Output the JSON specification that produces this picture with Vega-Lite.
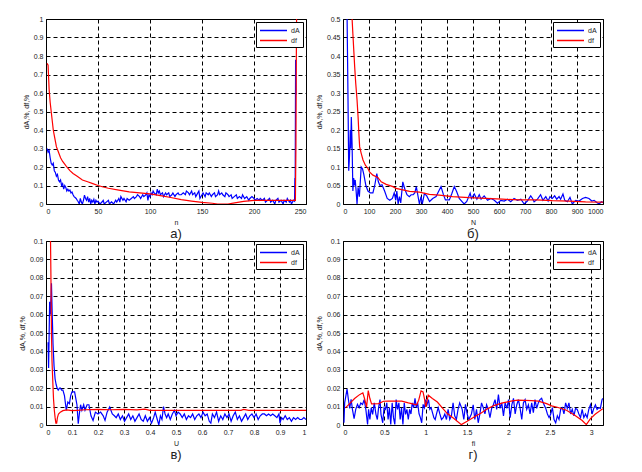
{
  "$schema": "https://vega.github.io/schema/vega-lite/v6.json",
  "background": "white",
  "padding": {"left": 17, "top": 14, "right": 5, "bottom": 5},
  "bounds": "flush",
  "columns": 2,
  "spacing": {"row": 37, "column": 37},
  "resolve": {"scale": {"color": "independent"}, "legend": {"color": "independent"}},
  "datasets": {
    "a": [
      {"x":1,"y":0.30,"s":"dA"},{"x":2,"y":0.28,"s":"dA"},{"x":3,"y":0.29,"s":"dA"},{"x":4,"y":0.25,"s":"dA"},{"x":5,"y":0.22,"s":"dA"},{"x":6,"y":0.21,"s":"dA"},{"x":7,"y":0.22,"s":"dA"},{"x":8,"y":0.18,"s":"dA"},{"x":9,"y":0.17,"s":"dA"},{"x":10,"y":0.15,"s":"dA"},
      {"x":11,"y":0.16,"s":"dA"},{"x":12,"y":0.13,"s":"dA"},{"x":13,"y":0.12,"s":"dA"},{"x":14,"y":0.13,"s":"dA"},{"x":15,"y":0.10,"s":"dA"},{"x":16,"y":0.11,"s":"dA"},{"x":17,"y":0.08,"s":"dA"},{"x":18,"y":0.10,"s":"dA"},{"x":19,"y":0.09,"s":"dA"},{"x":20,"y":0.07,"s":"dA"},
      {"x":21,"y":0.08,"s":"dA"},{"x":22,"y":0.07,"s":"dA"},{"x":23,"y":0.075,"s":"dA"},{"x":24,"y":0.06,"s":"dA"},{"x":25,"y":0.065,"s":"dA"},{"x":26,"y":0.05,"s":"dA"},{"x":27,"y":0.04,"s":"dA"},{"x":28,"y":0.035,"s":"dA"},{"x":29,"y":0.03,"s":"dA"},{"x":30,"y":0.02,"s":"dA"},
      {"x":31,"y":0.012,"s":"dA"},{"x":32,"y":0.0,"s":"dA"},{"x":33,"y":0.03,"s":"dA"},{"x":34,"y":0.01,"s":"dA"},{"x":35,"y":0.0,"s":"dA"},{"x":36,"y":0.02,"s":"dA"},{"x":37,"y":0.048,"s":"dA"},{"x":38,"y":0.03,"s":"dA"},{"x":39,"y":0.02,"s":"dA"},{"x":40,"y":0.04,"s":"dA"},
      {"x":41,"y":0.01,"s":"dA"},{"x":42,"y":0.03,"s":"dA"},{"x":43,"y":0.0,"s":"dA"},{"x":44,"y":0.02,"s":"dA"},{"x":45,"y":0.01,"s":"dA"},{"x":46,"y":0.025,"s":"dA"},{"x":47,"y":0.0,"s":"dA"},{"x":48,"y":0.02,"s":"dA"},{"x":49,"y":0.01,"s":"dA"},{"x":50,"y":0.015,"s":"dA"},
      {"x":52,"y":0.0,"s":"dA"},{"x":54,"y":0.012,"s":"dA"},{"x":55,"y":0.02,"s":"dA"},{"x":56,"y":0.0,"s":"dA"},{"x":58,"y":0.01,"s":"dA"},{"x":60,"y":0.02,"s":"dA"},{"x":61,"y":0.0,"s":"dA"},{"x":63,"y":0.012,"s":"dA"},{"x":65,"y":0.0,"s":"dA"},{"x":67,"y":0.02,"s":"dA"},
      {"x":68,"y":0.01,"s":"dA"},{"x":70,"y":0.03,"s":"dA"},{"x":71,"y":0.01,"s":"dA"},{"x":72,"y":0.04,"s":"dA"},{"x":74,"y":0.02,"s":"dA"},{"x":75,"y":0.03,"s":"dA"},{"x":77,"y":0.012,"s":"dA"},{"x":78,"y":0.03,"s":"dA"},{"x":80,"y":0.02,"s":"dA"},{"x":82,"y":0.03,"s":"dA"},
      {"x":84,"y":0.04,"s":"dA"},{"x":85,"y":0.03,"s":"dA"},{"x":87,"y":0.04,"s":"dA"},{"x":88,"y":0.05,"s":"dA"},{"x":90,"y":0.04,"s":"dA"},{"x":91,"y":0.03,"s":"dA"},{"x":93,"y":0.05,"s":"dA"},{"x":94,"y":0.04,"s":"dA"},{"x":96,"y":0.05,"s":"dA"},{"x":97,"y":0.06,"s":"dA"},
      {"x":98,"y":0.02,"s":"dA"},{"x":99,"y":0.05,"s":"dA"},{"x":100,"y":0.04,"s":"dA"},{"x":101,"y":0.06,"s":"dA"},{"x":102,"y":0.05,"s":"dA"},{"x":103,"y":0.07,"s":"dA"},{"x":104,"y":0.06,"s":"dA"},{"x":106,"y":0.05,"s":"dA"},{"x":107,"y":0.08,"s":"dA"},{"x":108,"y":0.06,"s":"dA"},
      {"x":109,"y":0.07,"s":"dA"},{"x":110,"y":0.05,"s":"dA"},{"x":112,"y":0.06,"s":"dA"},{"x":113,"y":0.04,"s":"dA"},{"x":115,"y":0.06,"s":"dA"},{"x":116,"y":0.05,"s":"dA"},{"x":118,"y":0.06,"s":"dA"},{"x":119,"y":0.04,"s":"dA"},{"x":121,"y":0.05,"s":"dA"},{"x":122,"y":0.06,"s":"dA"},
      {"x":124,"y":0.04,"s":"dA"},{"x":125,"y":0.05,"s":"dA"},{"x":127,"y":0.06,"s":"dA"},{"x":128,"y":0.05,"s":"dA"},{"x":130,"y":0.05,"s":"dA"},{"x":132,"y":0.06,"s":"dA"},{"x":134,"y":0.05,"s":"dA"},{"x":135,"y":0.07,"s":"dA"},{"x":137,"y":0.06,"s":"dA"},{"x":138,"y":0.05,"s":"dA"},
      {"x":140,"y":0.07,"s":"dA"},{"x":141,"y":0.05,"s":"dA"},{"x":143,"y":0.06,"s":"dA"},{"x":144,"y":0.04,"s":"dA"},{"x":146,"y":0.06,"s":"dA"},{"x":147,"y":0.07,"s":"dA"},{"x":148,"y":0.03,"s":"dA"},{"x":150,"y":0.05,"s":"dA"},{"x":151,"y":0.06,"s":"dA"},{"x":153,"y":0.04,"s":"dA"},
      {"x":154,"y":0.06,"s":"dA"},{"x":156,"y":0.05,"s":"dA"},{"x":157,"y":0.06,"s":"dA"},{"x":159,"y":0.04,"s":"dA"},{"x":160,"y":0.05,"s":"dA"},{"x":162,"y":0.06,"s":"dA"},{"x":163,"y":0.04,"s":"dA"},{"x":165,"y":0.05,"s":"dA"},{"x":166,"y":0.07,"s":"dA"},{"x":167,"y":0.05,"s":"dA"},
      {"x":169,"y":0.06,"s":"dA"},{"x":170,"y":0.05,"s":"dA"},{"x":172,"y":0.04,"s":"dA"},{"x":173,"y":0.06,"s":"dA"},{"x":175,"y":0.05,"s":"dA"},{"x":176,"y":0.04,"s":"dA"},{"x":178,"y":0.05,"s":"dA"},{"x":179,"y":0.03,"s":"dA"},{"x":181,"y":0.04,"s":"dA"},{"x":183,"y":0.05,"s":"dA"},
      {"x":184,"y":0.03,"s":"dA"},{"x":186,"y":0.04,"s":"dA"},{"x":188,"y":0.03,"s":"dA"},{"x":189,"y":0.05,"s":"dA"},{"x":191,"y":0.03,"s":"dA"},{"x":193,"y":0.04,"s":"dA"},{"x":195,"y":0.02,"s":"dA"},{"x":196,"y":0.03,"s":"dA"},{"x":198,"y":0.04,"s":"dA"},{"x":200,"y":0.03,"s":"dA"},
      {"x":201,"y":0.02,"s":"dA"},{"x":203,"y":0.03,"s":"dA"},{"x":205,"y":0.02,"s":"dA"},{"x":206,"y":0.03,"s":"dA"},{"x":208,"y":0.02,"s":"dA"},{"x":210,"y":0.03,"s":"dA"},{"x":211,"y":0.01,"s":"dA"},{"x":213,"y":0.02,"s":"dA"},{"x":215,"y":0.03,"s":"dA"},{"x":216,"y":0.01,"s":"dA"},
      {"x":218,"y":0.02,"s":"dA"},{"x":220,"y":0.0,"s":"dA"},{"x":221,"y":0.02,"s":"dA"},{"x":223,"y":0.03,"s":"dA"},{"x":224,"y":0.01,"s":"dA"},{"x":226,"y":0.02,"s":"dA"},{"x":228,"y":0.0,"s":"dA"},{"x":229,"y":0.02,"s":"dA"},{"x":231,"y":0.01,"s":"dA"},{"x":232,"y":0.03,"s":"dA"},
      {"x":234,"y":0.01,"s":"dA"},{"x":235,"y":0.02,"s":"dA"},{"x":236,"y":0.0,"s":"dA"},{"x":238,"y":0.02,"s":"dA"},{"x":239,"y":0.015,"s":"dA"},{"x":239.3,"y":0.14,"s":"dA"},{"x":239.6,"y":0.09,"s":"dA"},{"x":240,"y":0.78,"s":"dA"},{"x":240.4,"y":0.59,"s":"dA"},
      {"x":1,"y":0.76,"s":"df"},{"x":2,"y":0.75,"s":"df"},{"x":3,"y":0.62,"s":"df"},{"x":4,"y":0.55,"s":"df"},{"x":5,"y":0.5,"s":"df"},{"x":6,"y":0.45,"s":"df"},{"x":7,"y":0.4,"s":"df"},{"x":8,"y":0.37,"s":"df"},{"x":10,"y":0.31,"s":"df"},{"x":12,"y":0.28,"s":"df"},
      {"x":14,"y":0.25,"s":"df"},{"x":16,"y":0.23,"s":"df"},{"x":18,"y":0.215,"s":"df"},{"x":20,"y":0.2,"s":"df"},{"x":23,"y":0.18,"s":"df"},{"x":26,"y":0.165,"s":"df"},{"x":30,"y":0.15,"s":"df"},{"x":35,"y":0.13,"s":"df"},{"x":40,"y":0.12,"s":"df"},{"x":45,"y":0.11,"s":"df"},
      {"x":50,"y":0.1,"s":"df"},{"x":55,"y":0.092,"s":"df"},{"x":60,"y":0.085,"s":"df"},{"x":70,"y":0.075,"s":"df"},{"x":80,"y":0.066,"s":"df"},{"x":90,"y":0.06,"s":"df"},{"x":100,"y":0.055,"s":"df"},{"x":110,"y":0.045,"s":"df"},{"x":120,"y":0.035,"s":"df"},{"x":130,"y":0.024,"s":"df"},
      {"x":140,"y":0.016,"s":"df"},{"x":150,"y":0.009,"s":"df"},{"x":160,"y":0.004,"s":"df"},{"x":165,"y":0.0,"s":"df"},{"x":175,"y":0.0,"s":"df"},{"x":180,"y":0.005,"s":"df"},{"x":190,"y":0.014,"s":"df"},{"x":200,"y":0.02,"s":"df"},{"x":210,"y":0.02,"s":"df"},{"x":220,"y":0.02,"s":"df"},
      {"x":230,"y":0.02,"s":"df"},{"x":239.8,"y":0.02,"s":"df"},{"x":240.3,"y":0.3,"s":"df"},{"x":240.6,"y":0.7,"s":"df"},{"x":241,"y":1.05,"s":"df"}
    ],
    "b": [
      {"x":15,"y":0.55,"s":"dA"},{"x":19,"y":0.3,"s":"dA"},{"x":22,"y":0.09,"s":"dA"},{"x":25,"y":0.13,"s":"dA"},{"x":28,"y":0.2,"s":"dA"},{"x":30,"y":0.15,"s":"dA"},{"x":32,"y":0.235,"s":"dA"},{"x":35,"y":0.16,"s":"dA"},{"x":38,"y":0.035,"s":"dA"},{"x":41,"y":0.07,"s":"dA"},
      {"x":44,"y":0.05,"s":"dA"},{"x":47,"y":0.065,"s":"dA"},{"x":50,"y":0.04,"s":"dA"},{"x":54,"y":0.0,"s":"dA"},{"x":58,"y":0.045,"s":"dA"},{"x":63,"y":0.02,"s":"dA"},{"x":70,"y":0.1,"s":"dA"},{"x":75,"y":0.095,"s":"dA"},{"x":80,"y":0.08,"s":"dA"},{"x":88,"y":0.05,"s":"dA"},
      {"x":96,"y":0.035,"s":"dA"},{"x":105,"y":0.03,"s":"dA"},{"x":115,"y":0.03,"s":"dA"},{"x":122,"y":0.05,"s":"dA"},{"x":130,"y":0.082,"s":"dA"},{"x":136,"y":0.06,"s":"dA"},{"x":142,"y":0.05,"s":"dA"},{"x":150,"y":0.052,"s":"dA"},{"x":160,"y":0.035,"s":"dA"},{"x":170,"y":0.015,"s":"dA"},
      {"x":180,"y":0.01,"s":"dA"},{"x":190,"y":0.015,"s":"dA"},{"x":197,"y":0.03,"s":"dA"},{"x":203,"y":0.01,"s":"dA"},{"x":207,"y":0.035,"s":"dA"},{"x":212,"y":0.0,"s":"dA"},{"x":217,"y":0.02,"s":"dA"},{"x":222,"y":0.003,"s":"dA"},{"x":230,"y":0.06,"s":"dA"},{"x":238,"y":0.04,"s":"dA"},
      {"x":246,"y":0.025,"s":"dA"},{"x":255,"y":0.02,"s":"dA"},{"x":262,"y":0.025,"s":"dA"},{"x":270,"y":0.025,"s":"dA"},{"x":276,"y":0.03,"s":"dA"},{"x":282,"y":0.047,"s":"dA"},{"x":290,"y":0.015,"s":"dA"},{"x":294,"y":0.0,"s":"dA"},{"x":300,"y":0.02,"s":"dA"},{"x":305,"y":0.0,"s":"dA"},
      {"x":313,"y":0.028,"s":"dA"},{"x":322,"y":0.022,"s":"dA"},{"x":333,"y":0.007,"s":"dA"},{"x":345,"y":0.015,"s":"dA"},{"x":358,"y":0.02,"s":"dA"},{"x":367,"y":0.033,"s":"dA"},{"x":377,"y":0.047,"s":"dA"},{"x":386,"y":0.026,"s":"dA"},{"x":394,"y":0.011,"s":"dA"},{"x":409,"y":0.011,"s":"dA"},
      {"x":418,"y":0.027,"s":"dA"},{"x":428,"y":0.047,"s":"dA"},{"x":437,"y":0.034,"s":"dA"},{"x":447,"y":0.015,"s":"dA"},{"x":457,"y":0.007,"s":"dA"},{"x":466,"y":0.0,"s":"dA"},{"x":476,"y":0.007,"s":"dA"},{"x":489,"y":0.029,"s":"dA"},{"x":494,"y":0.015,"s":"dA"},{"x":505,"y":0.027,"s":"dA"},
      {"x":515,"y":0.013,"s":"dA"},{"x":524,"y":0.025,"s":"dA"},{"x":531,"y":0.013,"s":"dA"},{"x":543,"y":0.022,"s":"dA"},{"x":556,"y":0.01,"s":"dA"},{"x":569,"y":0.015,"s":"dA"},{"x":582,"y":0.01,"s":"dA"},{"x":594,"y":0.002,"s":"dA"},{"x":607,"y":0.01,"s":"dA"},{"x":620,"y":0.008,"s":"dA"},
      {"x":633,"y":0.013,"s":"dA"},{"x":645,"y":0.006,"s":"dA"},{"x":658,"y":0.015,"s":"dA"},{"x":671,"y":0.01,"s":"dA"},{"x":684,"y":0.013,"s":"dA"},{"x":697,"y":0.0,"s":"dA"},{"x":709,"y":0.008,"s":"dA"},{"x":722,"y":0.022,"s":"dA"},{"x":729,"y":0.015,"s":"dA"},{"x":735,"y":0.006,"s":"dA"},
      {"x":748,"y":0.013,"s":"dA"},{"x":760,"y":0.025,"s":"dA"},{"x":769,"y":0.01,"s":"dA"},{"x":780,"y":0.02,"s":"dA"},{"x":789,"y":0.008,"s":"dA"},{"x":796,"y":0.02,"s":"dA"},{"x":805,"y":0.015,"s":"dA"},{"x":814,"y":0.022,"s":"dA"},{"x":822,"y":0.013,"s":"dA"},{"x":831,"y":0.02,"s":"dA"},
      {"x":837,"y":0.013,"s":"dA"},{"x":846,"y":0.027,"s":"dA"},{"x":853,"y":0.01,"s":"dA"},{"x":863,"y":0.006,"s":"dA"},{"x":873,"y":0.018,"s":"dA"},{"x":882,"y":0.0,"s":"dA"},{"x":895,"y":0.01,"s":"dA"},{"x":908,"y":0.008,"s":"dA"},{"x":921,"y":0.015,"s":"dA"},{"x":933,"y":0.018,"s":"dA"},
      {"x":946,"y":0.015,"s":"dA"},{"x":957,"y":0.008,"s":"dA"},{"x":966,"y":0.01,"s":"dA"},{"x":976,"y":0.004,"s":"dA"},{"x":985,"y":0.0,"s":"dA"},{"x":994,"y":0.006,"s":"dA"},{"x":1000,"y":0.004,"s":"dA"},
      {"x":33,"y":0.56,"s":"df"},{"x":35,"y":0.5,"s":"df"},{"x":38,"y":0.46,"s":"df"},{"x":45,"y":0.37,"s":"df"},{"x":49,"y":0.326,"s":"df"},{"x":54,"y":0.281,"s":"df"},{"x":58,"y":0.236,"s":"df"},{"x":61,"y":0.191,"s":"df"},{"x":64,"y":0.155,"s":"df"},{"x":70,"y":0.137,"s":"df"},
      {"x":77,"y":0.119,"s":"df"},{"x":86,"y":0.105,"s":"df"},{"x":96,"y":0.096,"s":"df"},{"x":102,"y":0.087,"s":"df"},{"x":115,"y":0.078,"s":"df"},{"x":134,"y":0.072,"s":"df"},{"x":147,"y":0.06,"s":"df"},{"x":166,"y":0.053,"s":"df"},{"x":192,"y":0.047,"s":"df"},{"x":204,"y":0.042,"s":"df"},
      {"x":230,"y":0.038,"s":"df"},{"x":256,"y":0.034,"s":"df"},{"x":294,"y":0.032,"s":"df"},{"x":332,"y":0.026,"s":"df"},{"x":370,"y":0.024,"s":"df"},{"x":421,"y":0.02,"s":"df"},{"x":485,"y":0.017,"s":"df"},{"x":549,"y":0.015,"s":"df"},{"x":613,"y":0.013,"s":"df"},{"x":677,"y":0.011,"s":"df"},
      {"x":741,"y":0.011,"s":"df"},{"x":805,"y":0.009,"s":"df"},{"x":869,"y":0.008,"s":"df"},{"x":933,"y":0.006,"s":"df"},{"x":1000,"y":0.005,"s":"df"}
    ],
    "c": [
      {"x":0.008,"y":0.045,"s":"dA"},{"x":0.01,"y":0.031,"s":"dA"},{"x":0.014,"y":0.067,"s":"dA"},{"x":0.017,"y":0.06,"s":"dA"},{"x":0.021,"y":0.077,"s":"dA"},{"x":0.024,"y":0.06,"s":"dA"},{"x":0.027,"y":0.044,"s":"dA"},{"x":0.031,"y":0.032,"s":"dA"},{"x":0.035,"y":0.025,"s":"dA"},{"x":0.039,"y":0.022,"s":"dA"},
      {"x":0.043,"y":0.02,"s":"dA"},{"x":0.047,"y":0.019,"s":"dA"},{"x":0.052,"y":0.02,"s":"dA"},{"x":0.056,"y":0.02,"s":"dA"},{"x":0.06,"y":0.019,"s":"dA"},{"x":0.065,"y":0.019,"s":"dA"},{"x":0.071,"y":0.016,"s":"dA"},{"x":0.078,"y":0.008,"s":"dA"},{"x":0.084,"y":0.0125,"s":"dA"},{"x":0.09,"y":0.0116,"s":"dA"},
      {"x":0.095,"y":0.016,"s":"dA"},{"x":0.1,"y":0.018,"s":"dA"},{"x":0.11,"y":0.018,"s":"dA"},{"x":0.119,"y":0.011,"s":"dA"},{"x":0.124,"y":0.0007,"s":"dA"},{"x":0.129,"y":0.007,"s":"dA"},{"x":0.133,"y":0.011,"s":"dA"},{"x":0.138,"y":0.008,"s":"dA"},{"x":0.145,"y":0.011,"s":"dA"},{"x":0.15,"y":0.008,"s":"dA"},
      {"x":0.158,"y":0.011,"s":"dA"},{"x":0.165,"y":0.011,"s":"dA"},{"x":0.173,"y":0.005,"s":"dA"},{"x":0.181,"y":0.0025,"s":"dA"},{"x":0.19,"y":0.007,"s":"dA"},{"x":0.2,"y":0.006,"s":"dA"},{"x":0.21,"y":0.007,"s":"dA"},{"x":0.22,"y":0.005,"s":"dA"},{"x":0.227,"y":0.0025,"s":"dA"},{"x":0.235,"y":0.007,"s":"dA"},
      {"x":0.245,"y":0.0098,"s":"dA"},{"x":0.255,"y":0.006,"s":"dA"},{"x":0.263,"y":0.005,"s":"dA"},{"x":0.27,"y":0.004,"s":"dA"},{"x":0.278,"y":0.006,"s":"dA"},{"x":0.286,"y":0.003,"s":"dA"},{"x":0.294,"y":0.005,"s":"dA"},{"x":0.302,"y":0.002,"s":"dA"},{"x":0.31,"y":0.004,"s":"dA"},{"x":0.318,"y":0.006,"s":"dA"},
      {"x":0.326,"y":0.003,"s":"dA"},{"x":0.334,"y":0.005,"s":"dA"},{"x":0.342,"y":0.002,"s":"dA"},{"x":0.35,"y":0.004,"s":"dA"},{"x":0.358,"y":0.006,"s":"dA"},{"x":0.366,"y":0.003,"s":"dA"},{"x":0.374,"y":0.002,"s":"dA"},{"x":0.382,"y":0.005,"s":"dA"},{"x":0.39,"y":0.002,"s":"dA"},{"x":0.398,"y":0.004,"s":"dA"},
      {"x":0.406,"y":0.001,"s":"dA"},{"x":0.414,"y":0.004,"s":"dA"},{"x":0.42,"y":0.007,"s":"dA"},{"x":0.428,"y":0.003,"s":"dA"},{"x":0.434,"y":0.0,"s":"dA"},{"x":0.44,"y":0.005,"s":"dA"},{"x":0.446,"y":0.003,"s":"dA"},{"x":0.452,"y":0.01,"s":"dA"},{"x":0.458,"y":0.006,"s":"dA"},{"x":0.464,"y":0.004,"s":"dA"},
      {"x":0.47,"y":0.006,"s":"dA"},{"x":0.478,"y":0.003,"s":"dA"},{"x":0.486,"y":0.006,"s":"dA"},{"x":0.494,"y":0.008,"s":"dA"},{"x":0.5,"y":0.005,"s":"dA"},{"x":0.508,"y":0.007,"s":"dA"},{"x":0.516,"y":0.006,"s":"dA"},{"x":0.524,"y":0.004,"s":"dA"},{"x":0.532,"y":0.006,"s":"dA"},{"x":0.54,"y":0.003,"s":"dA"},
      {"x":0.548,"y":0.005,"s":"dA"},{"x":0.556,"y":0.004,"s":"dA"},{"x":0.564,"y":0.006,"s":"dA"},{"x":0.572,"y":0.003,"s":"dA"},{"x":0.58,"y":0.005,"s":"dA"},{"x":0.588,"y":0.006,"s":"dA"},{"x":0.596,"y":0.004,"s":"dA"},{"x":0.604,"y":0.007,"s":"dA"},{"x":0.612,"y":0.005,"s":"dA"},{"x":0.62,"y":0.006,"s":"dA"},
      {"x":0.628,"y":0.002,"s":"dA"},{"x":0.634,"y":0.001,"s":"dA"},{"x":0.64,"y":0.006,"s":"dA"},{"x":0.648,"y":0.004,"s":"dA"},{"x":0.656,"y":0.007,"s":"dA"},{"x":0.664,"y":0.002,"s":"dA"},{"x":0.672,"y":0.005,"s":"dA"},{"x":0.68,"y":0.003,"s":"dA"},{"x":0.688,"y":0.006,"s":"dA"},{"x":0.696,"y":0.004,"s":"dA"},
      {"x":0.704,"y":0.006,"s":"dA"},{"x":0.712,"y":0.002,"s":"dA"},{"x":0.72,"y":0.005,"s":"dA"},{"x":0.728,"y":0.007,"s":"dA"},{"x":0.736,"y":0.003,"s":"dA"},{"x":0.744,"y":0.005,"s":"dA"},{"x":0.752,"y":0.002,"s":"dA"},{"x":0.76,"y":0.004,"s":"dA"},{"x":0.768,"y":0.006,"s":"dA"},{"x":0.776,"y":0.003,"s":"dA"},
      {"x":0.784,"y":0.005,"s":"dA"},{"x":0.792,"y":0.006,"s":"dA"},{"x":0.8,"y":0.004,"s":"dA"},{"x":0.808,"y":0.006,"s":"dA"},{"x":0.816,"y":0.003,"s":"dA"},{"x":0.824,"y":0.005,"s":"dA"},{"x":0.832,"y":0.006,"s":"dA"},{"x":0.84,"y":0.006,"s":"dA"},{"x":0.848,"y":0.005,"s":"dA"},{"x":0.856,"y":0.006,"s":"dA"},
      {"x":0.864,"y":0.005,"s":"dA"},{"x":0.872,"y":0.006,"s":"dA"},{"x":0.88,"y":0.005,"s":"dA"},{"x":0.888,"y":0.004,"s":"dA"},{"x":0.896,"y":0.006,"s":"dA"},{"x":0.9,"y":0.001,"s":"dA"},{"x":0.906,"y":0.004,"s":"dA"},{"x":0.912,"y":0.003,"s":"dA"},{"x":0.92,"y":0.005,"s":"dA"},{"x":0.928,"y":0.003,"s":"dA"},
      {"x":0.936,"y":0.004,"s":"dA"},{"x":0.944,"y":0.002,"s":"dA"},{"x":0.952,"y":0.004,"s":"dA"},{"x":0.96,"y":0.003,"s":"dA"},{"x":0.968,"y":0.004,"s":"dA"},{"x":0.976,"y":0.003,"s":"dA"},{"x":0.984,"y":0.003,"s":"dA"},{"x":0.992,"y":0.004,"s":"dA"},{"x":1.0,"y":0.003,"s":"dA"},
      {"x":0.017,"y":0.105,"s":"df"},{"x":0.019,"y":0.08,"s":"df"},{"x":0.021,"y":0.05,"s":"df"},{"x":0.023,"y":0.035,"s":"df"},{"x":0.026,"y":0.024,"s":"df"},{"x":0.029,"y":0.014,"s":"df"},{"x":0.032,"y":0.008,"s":"df"},{"x":0.035,"y":0.004,"s":"df"},{"x":0.038,"y":0.001,"s":"df"},{"x":0.041,"y":0.001,"s":"df"},
      {"x":0.044,"y":0.004,"s":"df"},{"x":0.048,"y":0.006,"s":"df"},{"x":0.055,"y":0.007,"s":"df"},{"x":0.065,"y":0.0078,"s":"df"},{"x":0.08,"y":0.0082,"s":"df"},{"x":0.1,"y":0.0078,"s":"df"},{"x":0.12,"y":0.008,"s":"df"},{"x":0.15,"y":0.0083,"s":"df"},{"x":0.2,"y":0.0085,"s":"df"},{"x":0.25,"y":0.0083,"s":"df"},
      {"x":0.3,"y":0.0085,"s":"df"},{"x":0.35,"y":0.0082,"s":"df"},{"x":0.38,"y":0.0086,"s":"df"},{"x":0.4,"y":0.008,"s":"df"},{"x":0.5,"y":0.008,"s":"df"},{"x":0.6,"y":0.008,"s":"df"},{"x":0.7,"y":0.008,"s":"df"},{"x":0.75,"y":0.008,"s":"df"},{"x":0.76,"y":0.0085,"s":"df"},{"x":0.78,"y":0.008,"s":"df"},
      {"x":0.9,"y":0.008,"s":"df"},{"x":1.0,"y":0.008,"s":"df"}
    ],
    "d": [
      {"x":0.012,"y":0.0013,"s":"dA"},{"x":0.02,"y":0.012,"s":"dA"},{"x":0.049,"y":0.0195,"s":"dA"},{"x":0.065,"y":0.014,"s":"dA"},{"x":0.081,"y":0.009,"s":"dA"},{"x":0.098,"y":0.014,"s":"dA"},{"x":0.114,"y":0.0085,"s":"dA"},{"x":0.134,"y":0.0035,"s":"dA"},{"x":0.154,"y":0.0085,"s":"dA"},{"x":0.175,"y":0.0112,"s":"dA"},
      {"x":0.195,"y":0.0094,"s":"dA"},{"x":0.215,"y":0.012,"s":"dA"},{"x":0.236,"y":0.0112,"s":"dA"},{"x":0.256,"y":0.0138,"s":"dA"},{"x":0.276,"y":0.0085,"s":"dA"},{"x":0.297,"y":0.0003,"s":"dA"},{"x":0.309,"y":0.0085,"s":"dA"},{"x":0.325,"y":0.003,"s":"dA"},{"x":0.341,"y":0.0094,"s":"dA"},{"x":0.358,"y":0.0058,"s":"dA"},
      {"x":0.378,"y":0.012,"s":"dA"},{"x":0.398,"y":0.0058,"s":"dA"},{"x":0.415,"y":0.003,"s":"dA"},{"x":0.43,"y":0.0094,"s":"dA"},{"x":0.447,"y":0.0138,"s":"dA"},{"x":0.459,"y":0.0058,"s":"dA"},{"x":0.48,"y":0.0012,"s":"dA"},{"x":0.496,"y":0.0094,"s":"dA"},{"x":0.512,"y":0.0085,"s":"dA"},{"x":0.529,"y":0.012,"s":"dA"},
      {"x":0.545,"y":0.003,"s":"dA"},{"x":0.561,"y":0.0094,"s":"dA"},{"x":0.577,"y":0.0003,"s":"dA"},{"x":0.594,"y":0.012,"s":"dA"},{"x":0.61,"y":0.004,"s":"dA"},{"x":0.626,"y":0.0003,"s":"dA"},{"x":0.642,"y":0.0138,"s":"dA"},{"x":0.659,"y":0.0085,"s":"dA"},{"x":0.675,"y":0.012,"s":"dA"},{"x":0.691,"y":0.003,"s":"dA"},
      {"x":0.707,"y":0.0094,"s":"dA"},{"x":0.724,"y":0.0003,"s":"dA"},{"x":0.74,"y":0.012,"s":"dA"},{"x":0.756,"y":0.0058,"s":"dA"},{"x":0.772,"y":0.0085,"s":"dA"},{"x":0.789,"y":0.003,"s":"dA"},{"x":0.805,"y":0.0085,"s":"dA"},{"x":0.821,"y":0.006,"s":"dA"},{"x":0.837,"y":0.012,"s":"dA"},{"x":0.854,"y":0.0094,"s":"dA"},
      {"x":0.87,"y":0.0145,"s":"dA"},{"x":0.886,"y":0.0094,"s":"dA"},{"x":0.902,"y":0.012,"s":"dA"},{"x":0.919,"y":0.006,"s":"dA"},{"x":0.935,"y":0.004,"s":"dA"},{"x":0.951,"y":0.0012,"s":"dA"},{"x":0.968,"y":0.0112,"s":"dA"},{"x":0.984,"y":0.0094,"s":"dA"},{"x":1.0,"y":0.0138,"s":"dA"},{"x":1.016,"y":0.0112,"s":"dA"},
      {"x":1.033,"y":0.0138,"s":"dA"},{"x":1.049,"y":0.0085,"s":"dA"},{"x":1.065,"y":0.0094,"s":"dA"},{"x":1.081,"y":0.0067,"s":"dA"},{"x":1.098,"y":0.004,"s":"dA"},{"x":1.114,"y":0.003,"s":"dA"},{"x":1.13,"y":0.006,"s":"dA"},{"x":1.15,"y":0.0094,"s":"dA"},{"x":1.17,"y":0.006,"s":"dA"},{"x":1.19,"y":0.003,"s":"dA"},
      {"x":1.211,"y":0.004,"s":"dA"},{"x":1.23,"y":0.006,"s":"dA"},{"x":1.25,"y":0.003,"s":"dA"},{"x":1.27,"y":0.0085,"s":"dA"},{"x":1.29,"y":0.003,"s":"dA"},{"x":1.31,"y":0.005,"s":"dA"},{"x":1.33,"y":0.012,"s":"dA"},{"x":1.35,"y":0.005,"s":"dA"},{"x":1.37,"y":0.003,"s":"dA"},{"x":1.39,"y":0.0085,"s":"dA"},
      {"x":1.41,"y":0.012,"s":"dA"},{"x":1.44,"y":0.0085,"s":"dA"},{"x":1.46,"y":0.003,"s":"dA"},{"x":1.48,"y":0.0112,"s":"dA"},{"x":1.5,"y":0.006,"s":"dA"},{"x":1.52,"y":0.003,"s":"dA"},{"x":1.552,"y":0.006,"s":"dA"},{"x":1.573,"y":0.011,"s":"dA"},{"x":1.593,"y":0.003,"s":"dA"},{"x":1.613,"y":0.0085,"s":"dA"},
      {"x":1.634,"y":0.0012,"s":"dA"},{"x":1.654,"y":0.006,"s":"dA"},{"x":1.674,"y":0.012,"s":"dA"},{"x":1.695,"y":0.0094,"s":"dA"},{"x":1.715,"y":0.006,"s":"dA"},{"x":1.735,"y":0.011,"s":"dA"},{"x":1.756,"y":0.0085,"s":"dA"},{"x":1.776,"y":0.004,"s":"dA"},{"x":1.796,"y":0.009,"s":"dA"},{"x":1.817,"y":0.011,"s":"dA"},
      {"x":1.837,"y":0.0138,"s":"dA"},{"x":1.857,"y":0.0085,"s":"dA"},{"x":1.878,"y":0.0165,"s":"dA"},{"x":1.898,"y":0.009,"s":"dA"},{"x":1.918,"y":0.012,"s":"dA"},{"x":1.939,"y":0.005,"s":"dA"},{"x":1.959,"y":0.012,"s":"dA"},{"x":1.98,"y":0.009,"s":"dA"},{"x":2.0,"y":0.0138,"s":"dA"},{"x":2.02,"y":0.004,"s":"dA"},
      {"x":2.04,"y":0.011,"s":"dA"},{"x":2.06,"y":0.0145,"s":"dA"},{"x":2.08,"y":0.006,"s":"dA"},{"x":2.1,"y":0.011,"s":"dA"},{"x":2.12,"y":0.0138,"s":"dA"},{"x":2.14,"y":0.009,"s":"dA"},{"x":2.16,"y":0.003,"s":"dA"},{"x":2.18,"y":0.012,"s":"dA"},{"x":2.2,"y":0.0138,"s":"dA"},{"x":2.22,"y":0.0085,"s":"dA"},
      {"x":2.24,"y":0.011,"s":"dA"},{"x":2.26,"y":0.006,"s":"dA"},{"x":2.28,"y":0.012,"s":"dA"},{"x":2.3,"y":0.0067,"s":"dA"},{"x":2.32,"y":0.0138,"s":"dA"},{"x":2.34,"y":0.009,"s":"dA"},{"x":2.36,"y":0.012,"s":"dA"},{"x":2.38,"y":0.0138,"s":"dA"},{"x":2.4,"y":0.0145,"s":"dA"},{"x":2.42,"y":0.012,"s":"dA"},
      {"x":2.45,"y":0.009,"s":"dA"},{"x":2.47,"y":0.006,"s":"dA"},{"x":2.49,"y":0.004,"s":"dA"},{"x":2.51,"y":0.006,"s":"dA"},{"x":2.53,"y":0.0094,"s":"dA"},{"x":2.55,"y":0.003,"s":"dA"},{"x":2.57,"y":0.0012,"s":"dA"},{"x":2.59,"y":0.005,"s":"dA"},{"x":2.61,"y":0.003,"s":"dA"},{"x":2.63,"y":0.0085,"s":"dA"},
      {"x":2.65,"y":0.0094,"s":"dA"},{"x":2.67,"y":0.006,"s":"dA"},{"x":2.69,"y":0.012,"s":"dA"},{"x":2.71,"y":0.009,"s":"dA"},{"x":2.73,"y":0.012,"s":"dA"},{"x":2.75,"y":0.006,"s":"dA"},{"x":2.77,"y":0.0085,"s":"dA"},{"x":2.79,"y":0.005,"s":"dA"},{"x":2.81,"y":0.009,"s":"dA"},{"x":2.83,"y":0.0085,"s":"dA"},
      {"x":2.85,"y":0.006,"s":"dA"},{"x":2.87,"y":0.004,"s":"dA"},{"x":2.89,"y":0.0085,"s":"dA"},{"x":2.91,"y":0.004,"s":"dA"},{"x":2.93,"y":0.006,"s":"dA"},{"x":2.95,"y":0.004,"s":"dA"},{"x":2.97,"y":0.0085,"s":"dA"},{"x":2.99,"y":0.011,"s":"dA"},{"x":3.01,"y":0.006,"s":"dA"},{"x":3.03,"y":0.009,"s":"dA"},
      {"x":3.05,"y":0.011,"s":"dA"},{"x":3.07,"y":0.0085,"s":"dA"},{"x":3.09,"y":0.0094,"s":"dA"},{"x":3.11,"y":0.009,"s":"dA"},{"x":3.13,"y":0.0138,"s":"dA"},{"x":3.14,"y":0.0145,"s":"dA"},
      {"x":0.03,"y":0.0093,"s":"df"},{"x":0.08,"y":0.0116,"s":"df"},{"x":0.14,"y":0.0144,"s":"df"},{"x":0.2,"y":0.0165,"s":"df"},{"x":0.24,"y":0.0175,"s":"df"},{"x":0.26,"y":0.0144,"s":"df"},{"x":0.285,"y":0.0098,"s":"df"},{"x":0.305,"y":0.0187,"s":"df"},{"x":0.325,"y":0.0144,"s":"df"},{"x":0.345,"y":0.0115,"s":"df"},
      {"x":0.43,"y":0.0116,"s":"df"},{"x":0.49,"y":0.0129,"s":"df"},{"x":0.55,"y":0.013,"s":"df"},{"x":0.71,"y":0.013,"s":"df"},{"x":0.79,"y":0.012,"s":"df"},{"x":0.89,"y":0.011,"s":"df"},{"x":0.915,"y":0.0135,"s":"df"},{"x":0.943,"y":0.0185,"s":"df"},{"x":0.967,"y":0.018,"s":"df"},{"x":0.984,"y":0.0144,"s":"df"},
      {"x":1.0,"y":0.0098,"s":"df"},{"x":1.03,"y":0.0162,"s":"df"},{"x":1.08,"y":0.0144,"s":"df"},{"x":1.14,"y":0.0125,"s":"df"},{"x":1.2,"y":0.0093,"s":"df"},{"x":1.26,"y":0.0062,"s":"df"},{"x":1.34,"y":0.0035,"s":"df"},{"x":1.43,"y":0.0002,"s":"df"},{"x":1.5,"y":0.002,"s":"df"},{"x":1.585,"y":0.0044,"s":"df"},
      {"x":1.67,"y":0.0065,"s":"df"},{"x":1.75,"y":0.0089,"s":"df"},{"x":1.83,"y":0.0107,"s":"df"},{"x":1.93,"y":0.012,"s":"df"},{"x":2.03,"y":0.013,"s":"df"},{"x":2.11,"y":0.0135,"s":"df"},{"x":2.28,"y":0.0133,"s":"df"},{"x":2.36,"y":0.013,"s":"df"},{"x":2.46,"y":0.0116,"s":"df"},{"x":2.52,"y":0.0104,"s":"df"},
      {"x":2.6,"y":0.0095,"s":"df"},{"x":2.7,"y":0.008,"s":"df"},{"x":2.8,"y":0.0053,"s":"df"},{"x":2.89,"y":0.0024,"s":"df"},{"x":2.94,"y":0.0002,"s":"df"},{"x":2.99,"y":0.0035,"s":"df"},{"x":3.05,"y":0.006,"s":"df"},{"x":3.14,"y":0.0089,"s":"df"}
    ]
  },
  "concat": [
    {
      "data": {"name": "a"},
      "width": 260, "height": 185,
      "title": "а)",
      "mark": {"type": "line", "clip": true, "strokeWidth": 1.2},
      "encoding": {
        "x": {"field": "x", "type": "quantitative", "scale": {"domain": [0, 250], "nice": false, "zero": false},
              "axis": {"title": "n", "values": [0, 50, 100, 150, 200, 250]}},
        "y": {"field": "y", "type": "quantitative", "scale": {"domain": [0, 1], "nice": false},
              "axis": {"title": "dA,%, df,%", "values": [0, 0.1, 0.2, 0.3, 0.4, 0.5, 0.6, 0.7, 0.8, 0.9, 1], "format": "~g"}},
        "color": {"field": "s", "type": "nominal", "scale": {"domain": ["dA", "df"], "range": ["#0000ff", "#ff0000"]}, "legend": {"title": null}}
      }
    },
    {
      "data": {"name": "b"},
      "width": 260, "height": 185,
      "title": "б)",
      "mark": {"type": "line", "clip": true, "strokeWidth": 1.2},
      "encoding": {
        "x": {"field": "x", "type": "quantitative", "scale": {"domain": [0, 1000], "nice": false, "zero": false},
              "axis": {"title": "N", "values": [0, 100, 200, 300, 400, 500, 600, 700, 800, 900, 1000], "format": "d"}},
        "y": {"field": "y", "type": "quantitative", "scale": {"domain": [0, 0.5], "nice": false},
              "axis": {"title": "dA,%, df,%", "values": [0, 0.05, 0.1, 0.15, 0.2, 0.25, 0.3, 0.35, 0.4, 0.45, 0.5], "format": "~g"}},
        "color": {"field": "s", "type": "nominal", "scale": {"domain": ["dA", "df"], "range": ["#0000ff", "#ff0000"]}, "legend": {"title": null}}
      }
    },
    {
      "data": {"name": "c"},
      "width": 260, "height": 184,
      "title": "в)",
      "mark": {"type": "line", "clip": true, "strokeWidth": 1.2},
      "encoding": {
        "x": {"field": "x", "type": "quantitative", "scale": {"domain": [0, 1], "nice": false, "zero": false},
              "axis": {"title": "U", "values": [0, 0.1, 0.2, 0.3, 0.4, 0.5, 0.6, 0.7, 0.8, 0.9, 1], "format": "~g"}},
        "y": {"field": "y", "type": "quantitative", "scale": {"domain": [0, 0.1], "nice": false},
              "axis": {"title": "dA,%, df,%", "values": [0, 0.01, 0.02, 0.03, 0.04, 0.05, 0.06, 0.07, 0.08, 0.09, 0.1], "format": "~g"}},
        "color": {"field": "s", "type": "nominal", "scale": {"domain": ["dA", "df"], "range": ["#0000ff", "#ff0000"]}, "legend": {"title": null}}
      }
    },
    {
      "data": {"name": "d"},
      "width": 260, "height": 184,
      "title": "г)",
      "mark": {"type": "line", "clip": true, "strokeWidth": 1.2},
      "encoding": {
        "x": {"field": "x", "type": "quantitative", "scale": {"domain": [0, 3.1416], "nice": false, "zero": false},
              "axis": {"title": "fi", "values": [0, 0.5, 1, 1.5, 2, 2.5, 3], "format": "~g"}},
        "y": {"field": "y", "type": "quantitative", "scale": {"domain": [0, 0.1], "nice": false},
              "axis": {"title": "dA,%, df,%", "values": [0, 0.01, 0.02, 0.03, 0.04, 0.05, 0.06, 0.07, 0.08, 0.09, 0.1], "format": "~g"}},
        "color": {"field": "s", "type": "nominal", "scale": {"domain": ["dA", "df"], "range": ["#0000ff", "#ff0000"]}, "legend": {"title": null}}
      }
    }
  ],
  "config": {
    "font": "Liberation Sans",
    "view": {"stroke": "black", "strokeWidth": 1},
    "axis": {
      "labelFontSize": 7, "titleFontSize": 7, "titleFontWeight": "normal",
      "labelColor": "#222222", "titleColor": "#222222",
      "grid": true, "gridColor": "black", "gridDash": [4, 3], "gridOpacity": 1, "gridWidth": 1,
      "domain": false, "ticks": false, "labelPadding": 3, "titlePadding": 4
    },
    "legend": {
      "orient": "top-right", "offset": 3, "strokeColor": "black", "fillColor": "white",
      "padding": 3, "symbolType": "M-1,0H5", "symbolSize": 81, "symbolStrokeWidth": 1.5,
      "symbolFillColor": "transparent",
      "labelOffset": 21, "labelFontSize": 7, "labelColor": "#222222", "rowPadding": 1
    },
    "title": {"orient": "bottom", "fontSize": 13, "fontWeight": "normal", "color": "#222222", "offset": 3}
  }
}
